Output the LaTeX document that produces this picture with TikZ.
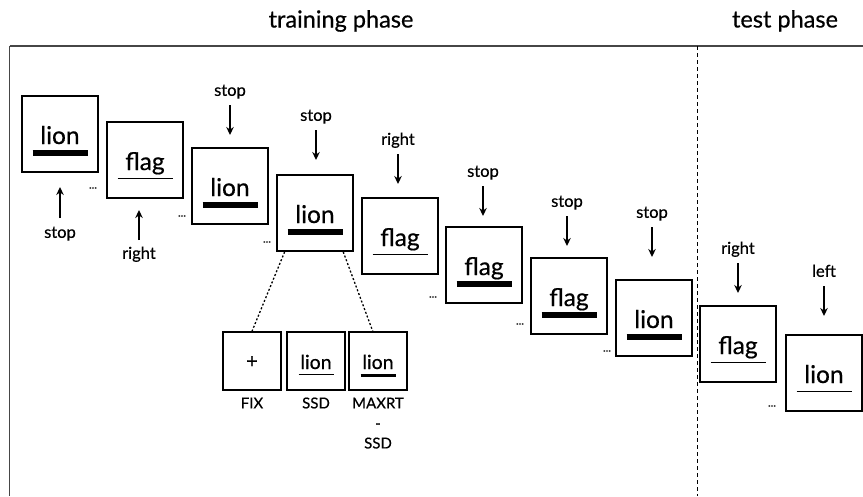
\documentclass[tikz,border=0pt]{standalone}
\usepackage{fontspec}
\setmainfont{Lato}[FakeBold=0.5]
\usetikzlibrary{arrows.meta,calc}

\tikzset{
  wordbox/.style={draw, line width=1.7pt, minimum size=76pt, inner sep=0pt},
  smallbox/.style={draw, line width=1.5pt, minimum size=58pt, inner sep=0pt},
  bigword/.style={font=\fontsize{24.5}{24.5}\selectfont, inner sep=0pt, anchor=base},
  smallword/.style={font=\fontsize{19.5}{19.5}\selectfont, inner sep=0pt, anchor=base},
  thickbar/.style={line width=6pt},
  thinbar/.style={line width=1.6pt},
  midbar/.style={line width=3.5pt},
  cue/.style={font=\fontsize{16.5}{16.5}\selectfont, inner sep=0pt, text height=11.5pt, text depth=3.8pt},
  caption/.style={font=\fontsize{15}{20}\selectfont, inner sep=0pt, align=center},
  title/.style={font=\fontsize{23.5}{23.5}\selectfont, inner sep=0pt, anchor=base},
  gap/.style={font=\fontsize{11}{11}\selectfont, inner sep=0pt},
  cuearrow/.style={line width=1.5pt, -{Stealth[length=8pt,width=7.5pt]}},
  zoomline/.style={line width=1.3pt, dash pattern=on 2pt off 2pt},
  separator/.style={line width=1.3pt, dash pattern=on 4pt off 3pt},
}

% one stimulus screen: name, centre x, centre y, word, bar style
\newcommand\stimscreen[5]{%
  \node[wordbox] (#1) at (#2,#3) {};
  \node[bigword] (#1w) at (#2,#3+10) {#4};
  \draw[#5] (#2-27.5,#3+18.5) -- (#2+27.5,#3+18.5);
}

\begin{document}
\begin{tikzpicture}[x=1pt,y=-1pt]
\useasboundingbox (0,0) rectangle (863,496);

% frame
\draw[gray!55!black, line width=1.8pt] (9.5,46) -- (863,46);
\draw[gray!55!black, line width=1.1pt] (9.5,46) -- (9.5,496);
\draw[separator] (697.5,46) -- (697.5,496);

% phase titles
\node[title] (ttrain) at (341,27.5) {training phase};
\node[title] (ttest) at (785,27.5) {test phase};

% training screens
\stimscreen{b1}{60}{134}{lion}{thickbar}
\stimscreen{b2}{145}{160}{flag}{thinbar}
\stimscreen{b3}{230}{186}{lion}{thickbar}
\stimscreen{b4}{315}{213}{lion}{thickbar}
\stimscreen{b5}{400}{236}{flag}{thinbar}
\stimscreen{b6}{484}{265}{flag}{thickbar}
\stimscreen{b7}{569}{296}{flag}{thickbar}
\stimscreen{b8}{654}{318}{lion}{thickbar}
% test screens
\stimscreen{b9}{738}{344}{flag}{thinbar}
\stimscreen{b10}{824}{373}{lion}{thinbar}

% omitted trials
\node[gap] (g2) at (93,188) {...};
\node[gap] (g3) at (182,216) {...};
\node[gap] (g4) at (267,242) {...};
\node[gap] (g6) at (433,297) {...};
\node[gap] (g7) at (520,324) {...};
\node[gap] (g8) at (607,351) {...};
\node[gap] (g10) at (772,406) {...};

% responses below the screens
\node[cue] (c1) at (60,234) {stop};
\node[cue] (c2) at (139,255) {right};
\draw[cuearrow] ($(c1)+(0,-16)$) -- ++(0,-31);
\draw[cuearrow] ($(c2)+(0,-15)$) -- ++(0,-30);

% responses above the screens
\node[cue] (c3) at (230,92) {stop};
\node[cue] (c4) at (316,117) {stop};
\node[cue] (c5) at (398,141) {right};
\node[cue] (c6) at (483,173) {stop};
\node[cue] (c7) at (567,203) {stop};
\node[cue] (c8) at (652,214) {stop};
\node[cue] (c9) at (738,250) {right};
\node[cue] (c10) at (824,273) {left};
\foreach \c in {c3,c4,c5,c6,c7,c8,c9,c10}
  \draw[cuearrow] ($(\c)+(0,13)$) -- ++(0,30);

% trial breakdown
\node[smallbox] (fix) at (252,361) {};
\node[font=\fontsize{20}{20}\selectfont, inner sep=0pt] (fixw) at (252,362) {+};
\node[smallbox] (ssd) at (316,361) {};
\node[smallword] (ssdw) at (316,369) {lion};
\draw[thinbar] (298.5,374.5) -- (333.5,374.5);
\node[smallbox] (maxrt) at (378,361) {};
\node[smallword] (maxrtw) at (378,369) {lion};
\draw[midbar] (360.5,375.5) -- (395.5,375.5);

\node[caption] (fixl) at (252,403) {FIX};
\node[caption] (ssdl) at (316,403) {SSD};
\node[caption, anchor=north] (maxrtl) at (378,397.5) {MAXRT\\-\\SSD};

\draw[zoomline] (b4.-128) -- (fix.north);
\draw[zoomline] (b4.-54) -- (maxrt.100);
\end{tikzpicture}
\end{document}
